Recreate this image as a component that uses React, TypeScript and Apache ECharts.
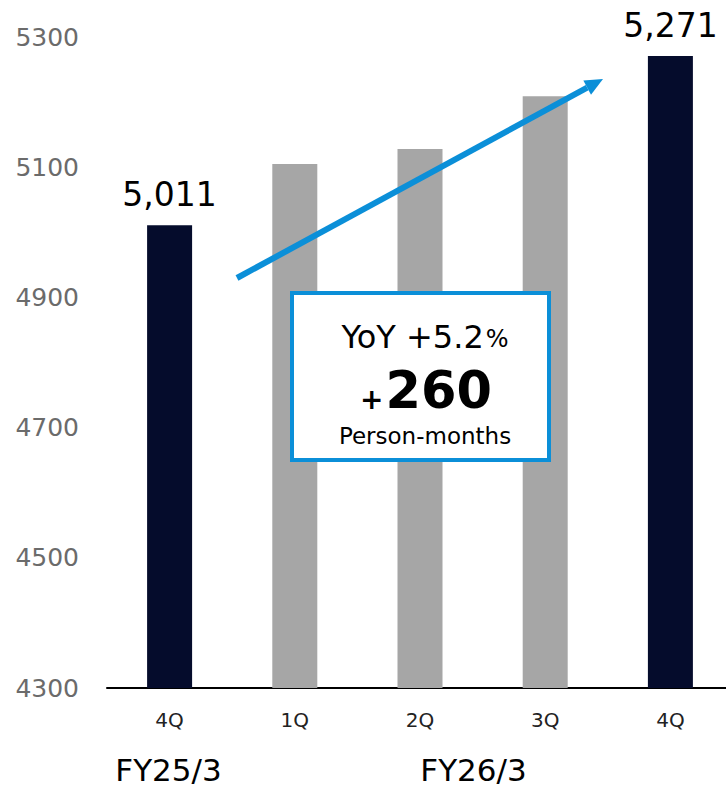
import React, { useEffect, useRef } from "react";
import * as echarts from "echarts";

const categories = ["4Q", "1Q", "2Q", "3Q", "4Q"];
const values = [5011, 5105, 5128, 5209, 5271];
const barColors = ["#050c2c", "#a6a6a6", "#a6a6a6", "#a6a6a6", "#050c2c"];
const showLabel = [true, false, false, false, true];
const yTicks = { min: 4300, max: 5300, interval: 200 };
const fiscalYears = ["FY25/3", "FY26/3"];
const yoyText = "YoY +5.2";
const diffText = "260";
const unitText = "Person-months";

const BLUE = "#0b8fd8";
const FONT = "DejaVu Sans";

export default function App() {
  const ref = useRef<HTMLDivElement>(null);
  useEffect(() => {
    if (!ref.current) return;
    const chart = echarts.init(ref.current, undefined, { renderer: "svg" });

    const tip = [603, 79];
    const start = [237, 278];
    const dx = tip[0] - start[0];
    const dy = tip[1] - start[1];
    const len = Math.sqrt(dx * dx + dy * dy);
    const ux = dx / len;
    const uy = dy / len;
    const headLen = 18;
    const halfW = 8;
    const bx = tip[0] - headLen * ux;
    const by = tip[1] - headLen * uy;
    const px = -uy;
    const py = ux;

    chart.setOption({
      animation: false,
      grid: { left: 107, top: 37, right: 7, height: 651, containLabel: false },
      xAxis: {
        type: "category",
        data: categories,
        axisLine: { show: true, lineStyle: { color: "#000", width: 2 } },
        axisTick: { show: false },
        axisLabel: { color: "#222", fontSize: 20, fontFamily: FONT, margin: 22 },
      },
      yAxis: {
        type: "value",
        min: yTicks.min,
        max: yTicks.max,
        interval: yTicks.interval,
        axisLine: { show: false },
        axisTick: { show: false },
        splitLine: { show: false },
        axisLabel: {
          color: "#6b6b6b",
          fontSize: 25,
          fontFamily: FONT,
          margin: 28,
          formatter: (v: number) => String(v),
        },
      },
      series: [
        {
          type: "bar",
          barWidth: 45,
          data: values.map((v, i) => ({
            value: v,
            itemStyle: { color: barColors[i] },
            label: {
              show: showLabel[i],
              position: "top",
              distance: 14,
              color: "#000",
              fontSize: 33,
              fontFamily: FONT,
              formatter: (p: any) => p.value.toLocaleString("en-US"),
            },
          })),
        },
      ],
      graphic: [
        {
          type: "group",
          z: 100,
          children: [
            {
              type: "line",
              z: 100,
              shape: { x1: start[0], y1: start[1], x2: bx, y2: by },
              style: { stroke: BLUE, lineWidth: 6 },
            },
            {
              type: "polygon",
              z: 100,
              shape: {
                points: [
                  tip,
                  [bx + px * halfW, by + py * halfW],
                  [bx - px * halfW, by - py * halfW],
                ],
              },
              style: { fill: BLUE },
            },
            {
              type: "rect",
              z: 100,
              shape: { x: 292, y: 293, width: 257, height: 167 },
              style: { fill: "#fff", stroke: BLUE, lineWidth: 4 },
            },
            {
              type: "text",
              z: 101,
              x: 425,
              y: 337,
              style: {
                text: `{a|${yoyText}}{b|%}`,
                align: "center",
                verticalAlign: "middle",
                rich: {
                  a: { fontSize: 32, fontFamily: FONT, fill: "#000", verticalAlign: "bottom" },
                  b: { fontSize: 24, fontFamily: FONT, fill: "#000", verticalAlign: "bottom", padding: [0, 0, 2, 2] },
                },
              },
            },
            {
              type: "text",
              z: 101,
              x: 426,
              y: 390,
              style: {
                text: `{p|+}{n|${diffText}}`,
                align: "center",
                verticalAlign: "middle",
                rich: {
                  p: { fontSize: 28, fontWeight: "bold", fontFamily: FONT, fill: "#000", verticalAlign: "bottom", padding: [0, 2, 2, 0] },
                  n: { fontSize: 51, fontWeight: "bold", fontFamily: FONT, fill: "#000", verticalAlign: "bottom" },
                },
              },
            },
            {
              type: "text",
              z: 101,
              x: 425,
              y: 436,
              style: {
                text: unitText,
                align: "center",
                verticalAlign: "middle",
                fontSize: 23,
                fontFamily: FONT,
                fill: "#000",
              },
            },
            {
              type: "text",
              z: 101,
              x: 168.5,
              y: 770,
              style: { text: fiscalYears[0], align: "center", verticalAlign: "middle", fontSize: 31, fontFamily: FONT, fill: "#000" },
            },
            {
              type: "text",
              z: 101,
              x: 473.5,
              y: 770,
              style: { text: fiscalYears[1], align: "center", verticalAlign: "middle", fontSize: 31, fontFamily: FONT, fill: "#000" },
            },
          ],
        },
      ],
    });
    return () => chart.dispose();
  }, []);
  return (
    <div style={{ position: "absolute", left: 0, top: 0, width: 726, height: 789, overflow: "hidden" }}>
      <div ref={ref} style={{ width: 740, height: 789 }} />
    </div>
  );
}
